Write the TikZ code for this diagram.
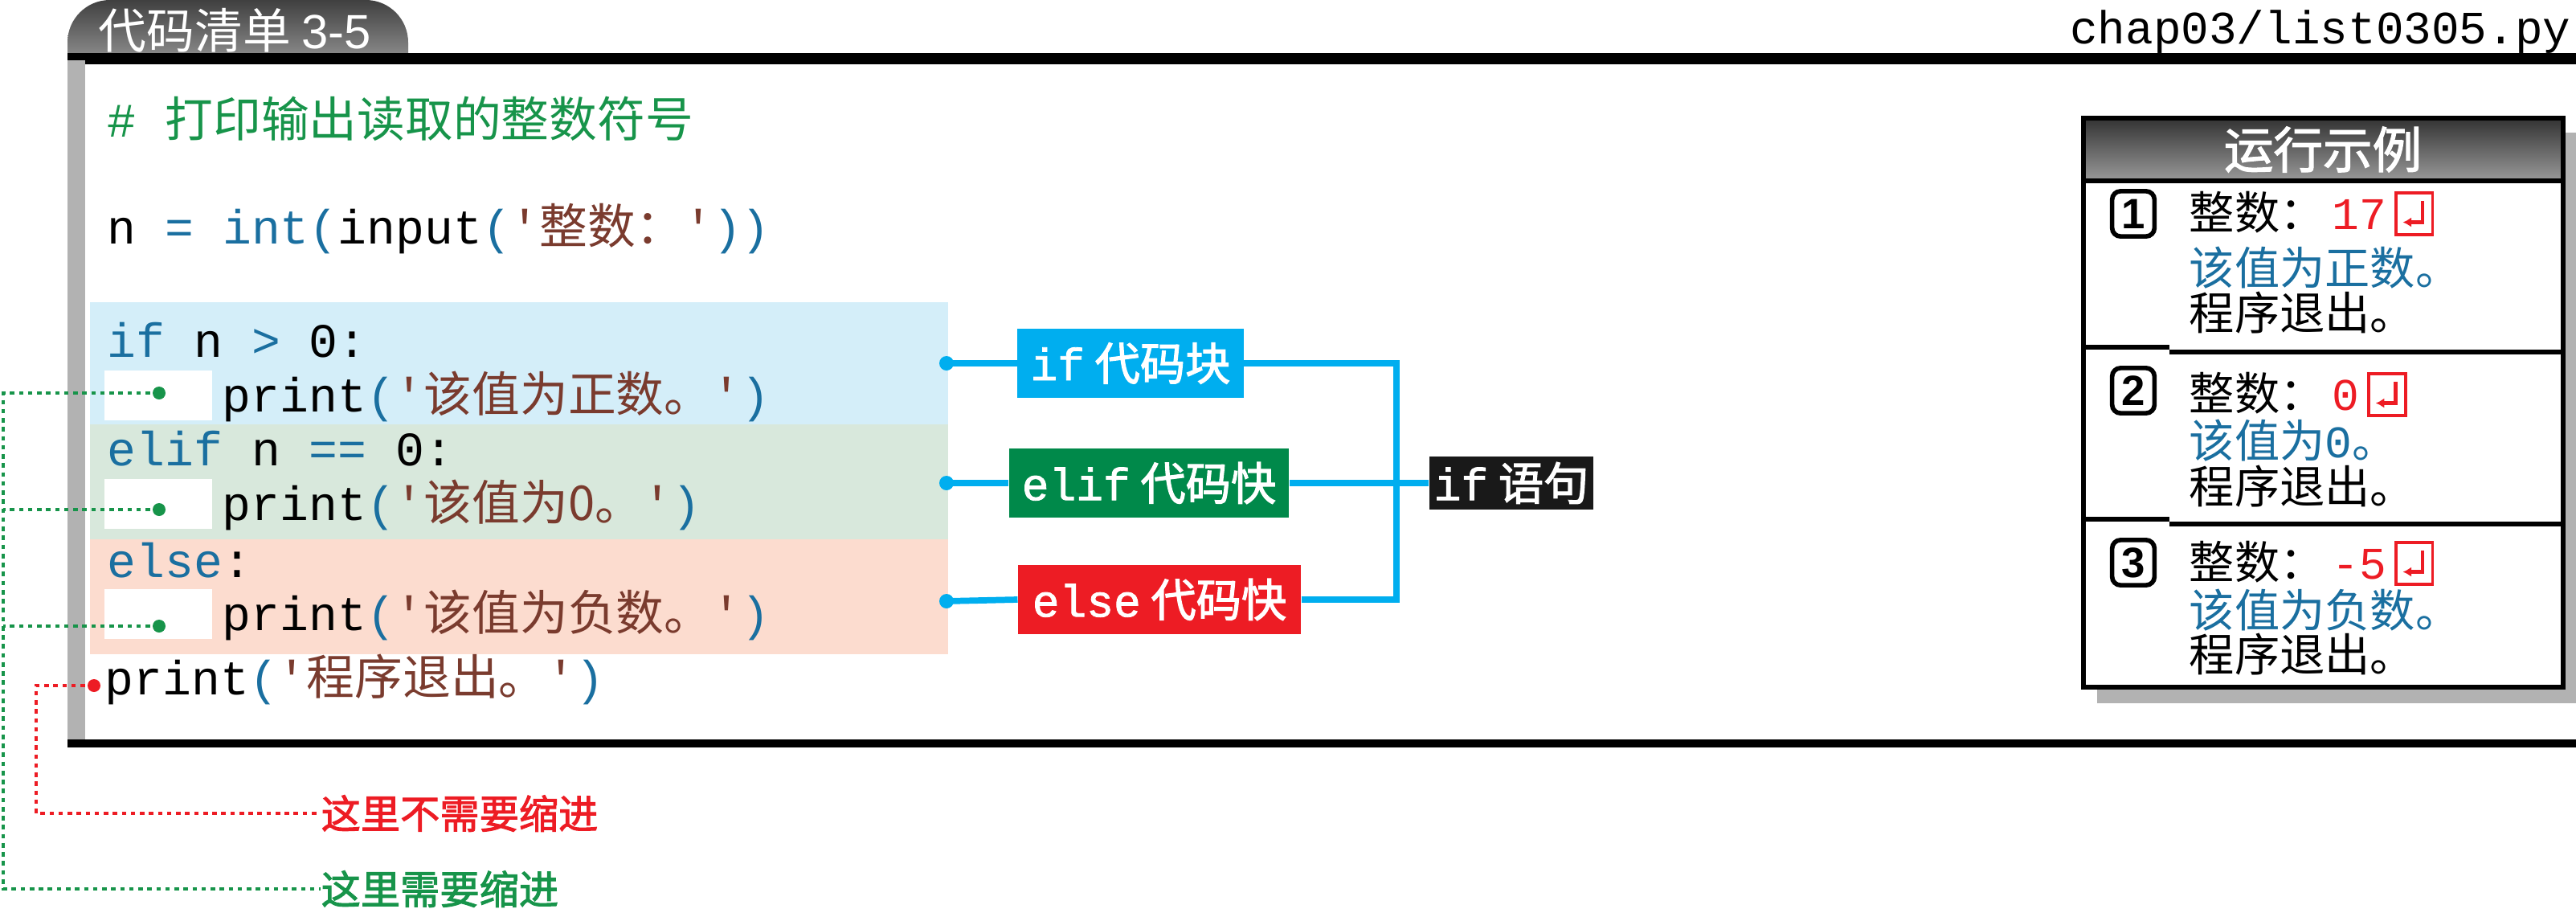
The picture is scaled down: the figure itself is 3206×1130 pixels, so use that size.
\documentclass[tikz,border=0pt]{standalone}
\usepackage{fontspec}
\setmainfont{Noto Sans CJK SC}
\setmonofont{Liberation Mono}
\setsansfont{Liberation Sans}
\newfontfamily\cjk{Noto Sans CJK SC}
\newfontfamily\cjkb{Noto Sans CJK SC}[FakeBold=2]
\newfontfamily\monob{Liberation Mono}[FakeBold=1.5]
\usetikzlibrary{shadings,arrows.meta}
\definecolor{kwc}{HTML}{1A6FA0}
\definecolor{strc}{HTML}{7A3B2E}
\definecolor{comc}{HTML}{17944A}
\definecolor{bluebg}{HTML}{D4EEF9}
\definecolor{greenbg}{HTML}{D8E8DC}
\definecolor{orangebg}{HTML}{FCDCCF}
\definecolor{conc}{HTML}{00AEEF}
\definecolor{gbox}{HTML}{00894A}
\definecolor{rbox}{HTML}{ED1C24}
\definecolor{outc}{HTML}{1A6FA0}
\newcommand\kw[1]{\textcolor{kwc}{#1}}
\newcommand\strg[1]{\textcolor{strc}{'{\cjk #1}'}}
\newcommand\enterkey{\,\tikz[baseline=0pt,x=1pt,y=1pt]{\draw[rbox,line width=1.1pt](0,-2) rectangle (13,13);\draw[rbox,line width=1.2pt,-{Latex[length=3pt,width=3.5pt]}](9.5,10)--(9.5,2.5)--(2.5,2.5);}}
\tikzset{
 code/.style={anchor=west,font=\ttfamily\fontsize{17}{20}\selectfont,inner sep=0pt},
 lbl/.style={text=white,font=\cjkb\fontsize{16}{18}\selectfont,inner sep=0pt},
 conn/.style={conc,line width=2.2pt},
 gdot/.style={comc,line width=1.3pt,dash pattern=on 1.6pt off 1.6pt},
 rdot/.style={rbox,line width=1.3pt,dash pattern=on 1.6pt off 1.6pt},
 outl/.style={anchor=west,inner sep=0pt,font=\cjk\fontsize{16}{19}\selectfont},
 cnum/.style={draw,line width=1.6pt,rounded corners=3pt,inner sep=0pt,minimum width=15pt,minimum height=16pt,font=\sffamily\bfseries\fontsize{15}{16}\selectfont}
}
\begin{document}
\begin{tikzpicture}[x=0.01cm,y=-0.01cm]
\useasboundingbox (0,0) rectangle (3206,1130);
% tab
\shade[top color=black!75,bottom color=black!45] (84,72) [rounded corners=15] -- (84,0) -- (508,0) [sharp corners] -- (508,72) -- cycle;
\node[anchor=west,text=white,font=\cjk\fontsize{17}{20}\selectfont,inner sep=0pt] (title) at (122,38) {代码清单 \sffamily 3-5};
\node[anchor=east,font=\ttfamily\fontsize{16.4}{20}\selectfont,inner sep=0pt] (file) at (3200,40) {chap03/list0305.py};
\draw[line width=4pt] (84,73) -- (3206,73);
\fill[black!30] (84,75) rectangle (106,923);
\draw[line width=3pt] (84,925) -- (3206,925);
% blocks
\fill[bluebg] (112,376) rectangle (1180,528);
\fill[greenbg] (112,528) rectangle (1180,671);
\fill[orangebg] (112,671) rectangle (1180,814);
\foreach \yy in {493,628,765} \fill[white] (130,\yy-32) rectangle (264,\yy+30);
% code
\node[code,text=comc] (com) at (133,148) {\# {\cjk 打印输出读取的整数符号}};
\node[code] (l1) at (133,285) {n \kw{=} \kw{int(}input\kw{(}\strg{整数：}\kw{))}};
\node[code] (l2) at (133,423) {\kw{if} n \kw{>} 0:};
\node[code] (l3) at (276,493) {print\kw{(}\strg{该值为正数。}\kw{)}};
\node[code] (l4) at (133,558) {\kw{elif} n \kw{==} 0:};
\node[code] (l5) at (276,628) {print\kw{(}\strg{该值为0。}\kw{)}};
\node[code] (l6) at (133,697) {\kw{else}:};
\node[code] (l7) at (276,765) {print\kw{(}\strg{该值为负数。}\kw{)}};
\node[code] (l8) at (130,845) {print\kw{(}\strg{程序退出。}\kw{)}};
% indentation marks
\coordinate (d1) at (198,489);
\coordinate (d2) at (198,634);
\coordinate (d3) at (198,779);
\coordinate (dr) at (117,853);
\node[anchor=west,inner sep=0pt,text=rbox,font=\cjkb\fontsize{14}{16}\selectfont] (nr) at (399,1012) {这里不需要缩进};
\node[anchor=west,inner sep=0pt,text=comc,font=\cjkb\fontsize{14}{16}\selectfont] (ng) at (399,1106) {这里需要缩进};
\draw[gdot] (d1) -- (4,489) -- (4,1106) -- (ng.west);
\draw[gdot] (d2) -- (4,634);
\draw[gdot] (d3) -- (4,779);
\draw[rdot] (dr) -- (45,853) -- (45,1012) -- (nr.west);
\foreach \d in {d1,d2,d3} \fill[comc] (\d) circle (8);
\fill[rbox] (dr) circle (8);
% block labels
\coordinate (c1) at (1178,452);
\coordinate (c2) at (1178,601);
\coordinate (c3) at (1178,748);
\node[lbl,fill=conc,minimum width=80pt,minimum height=24.5pt] (bif) at (1407,452) {{\monob if} 代码块};
\node[lbl,fill=gbox,minimum width=99pt,minimum height=24.5pt] (belif) at (1430,601) {{\monob elif} 代码快};
\node[lbl,fill=rbox,minimum width=100pt,minimum height=24.5pt] (belse) at (1443,746) {{\monob else} 代码快};
\node[lbl,fill=black!90,minimum width=58pt,minimum height=18.5pt] (bst) at (1881,601) {{\monob if} 语句};
\draw[conn] (c1) -- (bif.west);
\draw[conn] (c2) -- (belif.west);
\draw[conn] (c3) -- (belse.west);
\draw[conn] (bif.east) -| (1738,601);
\draw[conn] (belse.east) -| (1738,601);
\draw[conn] (belif.east) -- (bst.west);
\foreach \c in {c1,c2,c3} \fill[conc] (\c) circle (9);
% run example panel
\fill[black!30] (2610,165) rectangle (3206,875);
\fill[white] (2593,147) rectangle (3190,855);
\shade[top color=black!80,bottom color=black!40] (2593,147) rectangle (3190,225);
\draw[line width=1.5pt] (2593,147) rectangle (3190,855);
\draw[line width=1.5pt] (2593,225) -- (3190,225);
\draw[line width=1.5pt] (2593,432) -- (2700,432) (2700,438) -- (3190,438);
\draw[line width=1.5pt] (2593,646) -- (2700,646) (2700,652) -- (3190,652);
\node[text=white,font=\cjkb\fontsize{17.5}{20}\selectfont,inner sep=0pt] (hdr) at (2891,186) {运行示例};
\node[cnum] (n1) at (2655,266) {1};
\node[cnum] (n2) at (2655,486) {2};
\node[cnum] (n3) at (2655,700) {3};
\node[outl] (o11) at (2724,266) {整数：\,{\ttfamily\color{rbox}17}\enterkey};
\node[outl,text=outc] (o12) at (2724,333) {该值为正数。};
\node[outl] (o13) at (2724,389) {程序退出。};
\node[outl] (o21) at (2724,491) {整数：\,{\ttfamily\color{rbox}0}\enterkey};
\node[outl,text=outc] (o22) at (2724,548) {该值为{\ttfamily 0}。};
\node[outl] (o23) at (2724,605) {程序退出。};
\node[outl] (o31) at (2724,701) {整数：\,{\ttfamily\color{rbox}-5}\enterkey};
\node[outl,text=outc] (o32) at (2724,759) {该值为负数。};
\node[outl] (o33) at (2724,814) {程序退出。};
\end{tikzpicture}
\end{document}
